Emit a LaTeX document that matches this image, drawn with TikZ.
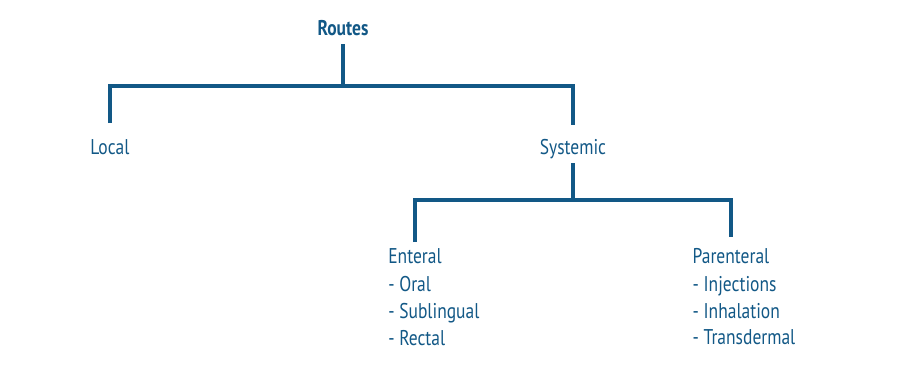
\documentclass[tikz,border=0pt]{standalone}
\usepackage{fontspec}
\setmainfont{PT Sans}[FakeStretch=0.82]
\usepackage{tikz}
\usetikzlibrary{positioning, calc}
\definecolor{routeblue}{RGB}{18,88,134}

\begin{document}
\begin{tikzpicture}[x=0.75pt, y=-0.75pt,
    link/.style={line width=3pt, routeblue},
    lbl/.style={font=\fontsize{16}{19.9}\selectfont, text=routeblue, inner sep=0pt, anchor=base},
    items/.style={lbl, anchor=north west, align=left}]
  \useasboundingbox (0,0) rectangle (900,372);

  % headings
  \node[lbl, font=\fontsize{16}{19.9}\selectfont\bfseries] (routes) at (343,35) {Routes};
  \node[lbl] (local) at (110,154) {Local};
  \node[lbl] (systemic) at (573,154) {Systemic};
  \node[lbl] (enteral) at (415,263) {Enteral};
  \node[lbl] (parenteral) at (731,263) {Parenteral};

  % lists
  \node[items] (enterallist) at ($(enteral.base west)+(0,13.5)$) {- Oral\\- Sublingual\\- Rectal};
  \node[items] (parenterallist) at ($(parenteral.base west)+(0,13.5)$) {- Injections\\- Inhalation\\- Transdermal};

  % connectors
  \draw[link, shorten <=6.75pt] (routes.base) -- (routes.base |- 0,86);
  \draw[link, shorten <=23.25pt, shorten >=21.75pt] (local.base) |- (routes.base |- 0,86) -| (systemic.base);
  \draw[link, shorten <=6.75pt] (systemic.base) -- (systemic.base |- 0,200);
  \draw[link, shorten <=15.75pt, shorten >=19.5pt] (enteral.base) |- (systemic.base |- 0,200) -| (parenteral.base);
\end{tikzpicture}
\end{document}
